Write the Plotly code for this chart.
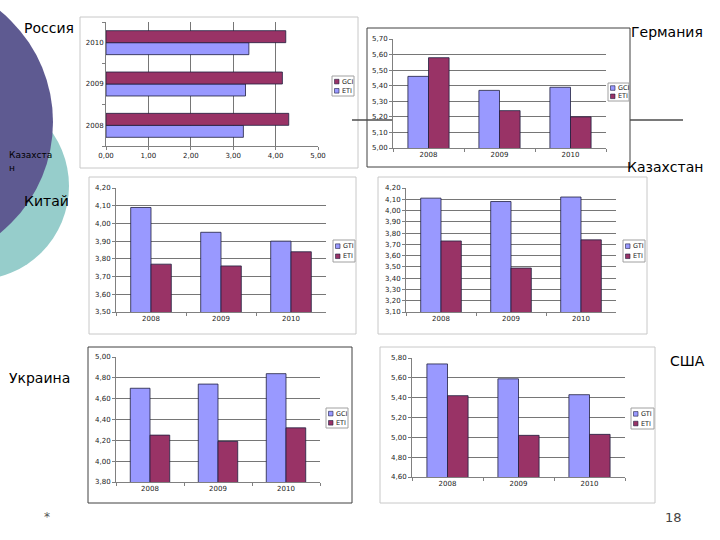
import plotly.graph_objects as go

# ---------------- data ----------------
years = ["2008", "2009", "2010"]

russia_gci = [4.31, 4.16, 4.24]
russia_eti = [3.24, 3.29, 3.37]

germany_gci = [5.46, 5.37, 5.39]
germany_eti = [5.58, 5.24, 5.20]

china_gti = [4.09, 3.95, 3.90]
china_eti = [3.77, 3.76, 3.84]

kaz_gti = [4.11, 4.08, 4.12]
kaz_eti = [3.73, 3.49, 3.74]

ukr_gci = [4.70, 4.74, 4.84]
ukr_eti = [4.25, 4.19, 4.32]

usa_gti = [5.74, 5.59, 5.43]
usa_eti = [5.42, 5.02, 5.03]

# ---------------- style ----------------
W, H = 720, 540
BLUE = "#9999ff"
MAROON = "#993366"
OUTLINE = "#1f1f3f"
PLOT_BG = "#c0c0c0"
GRID = "#767676"
AXIS = "#808080"
FONT = "DejaVu Sans"


def fx(x):
    return x / W


def fy(y):
    return 1 - y / H


panels = [
    dict(series=[("ETI", russia_eti, BLUE), ("GCI", russia_gci, MAROON)],
         legend=[("GCI", MAROON), ("ETI", BLUE)], orient="h", rng=[0, 5], dtick=1,
         box=(80, 17, 358, 168), plot=(106, 22, 318, 146), lbox=(332, 76, 354, 96), border="#c8c8c8"),
    dict(series=[("GCI", germany_gci, BLUE), ("ETI", germany_eti, MAROON)],
         legend=[("GCI", BLUE), ("ETI", MAROON)], orient="v", rng=[5.0, 5.7], dtick=0.1,
         box=(367, 28, 630, 167), plot=(393, 39, 606, 148), lbox=(608, 83, 629, 101), border="#404040"),
    dict(series=[("GTI", china_gti, BLUE), ("ETI", china_eti, MAROON)],
         legend=[("GTI", BLUE), ("ETI", MAROON)], orient="v", rng=[3.5, 4.2], dtick=0.1,
         box=(89, 177, 356, 334), plot=(116, 188, 326, 312), lbox=(333, 240, 355, 262), border="#c8c8c8"),
    dict(series=[("GTI", kaz_gti, BLUE), ("ETI", kaz_eti, MAROON)],
         legend=[("GTI", BLUE), ("ETI", MAROON)], orient="v", rng=[3.1, 4.2], dtick=0.1,
         box=(378, 177, 647, 334), plot=(406, 188, 616, 312), lbox=(623, 240, 645, 262), border="#c8c8c8"),
    dict(series=[("GCI", ukr_gci, BLUE), ("ETI", ukr_eti, MAROON)],
         legend=[("GCI", BLUE), ("ETI", MAROON)], orient="v", rng=[3.8, 5.0], dtick=0.2,
         box=(88, 347, 352, 503), plot=(116, 357, 320, 482), lbox=(326, 408, 348, 428), border="#404040"),
    dict(series=[("GTI", usa_gti, BLUE), ("ETI", usa_eti, MAROON)],
         legend=[("GTI", BLUE), ("ETI", MAROON)], orient="v", rng=[4.6, 5.8], dtick=0.2,
         box=(380, 347, 655, 503), plot=(412, 358, 625, 477), lbox=(631, 408, 654, 429), border="#c8c8c8"),
]

fig = go.Figure()
shapes = []
annotations = []
layout_axes = {}

# decorative circles (slide theme)
shapes.append(dict(type="circle", xref="paper", yref="paper", layer="below",
                   x0=fx(-25 - 94), x1=fx(-25 + 94), y0=fy(186 + 94), y1=fy(186 - 94),
                   fillcolor="#96cdcb", line=dict(width=0)))
shapes.append(dict(type="circle", xref="paper", yref="paper", layer="below",
                   x0=fx(-90 - 143), x1=fx(-90 + 143), y0=fy(122 + 143), y1=fy(122 - 143),
                   fillcolor="#5e5a91", line=dict(width=0)))

value_axis_common = dict(showgrid=True, gridcolor=GRID, gridwidth=1, showline=True, linecolor=AXIS,
                         linewidth=1, ticks="outside", ticklen=3, tickcolor=AXIS, zeroline=False,
                         automargin=False,
                         tickfont=dict(size=7, family=FONT, color="#222222"), fixedrange=True)
cat_axis_common = dict(type="category", showgrid=False, showline=True, linecolor=AXIS, linewidth=1,
                       ticks="outside", ticklen=3, tickcolor=AXIS, tickson="boundaries",
                       automargin=False,
                       tickfont=dict(size=7, family=FONT, color="#222222"), fixedrange=True)

for i, p in enumerate(panels, start=1):
    sfx = "" if i == 1 else str(i)
    xa, ya = "x" + sfx, "y" + sfx
    bx0, by0, bx1, by1 = p["box"]
    shapes.append(dict(type="rect", xref="paper", yref="paper", layer="below",
                       x0=fx(bx0), x1=fx(bx1), y0=fy(by1), y1=fy(by0),
                       fillcolor="white", line=dict(color=p["border"], width=1)))
    px0, py0, px1, py1 = p["plot"]
    lo, hi = p["rng"]
    n = int(round((hi - lo) / p["dtick"]))
    tv = [round(lo + k * p["dtick"], 2) for k in range(n + 1)]
    vaxis = dict(value_axis_common, range=[lo, hi], tickvals=tv, tickformat=".2f")
    if p["orient"] == "h":
        layout_axes["xaxis" + sfx] = dict(vaxis, domain=[fx(px0), fx(px1)], anchor=ya)
        layout_axes["yaxis" + sfx] = dict(cat_axis_common, domain=[fy(py1), fy(py0)], anchor=xa,
                                          categoryorder="array", categoryarray=years)
    else:
        layout_axes["xaxis" + sfx] = dict(cat_axis_common, domain=[fx(px0), fx(px1)], anchor=ya,
                                          categoryorder="array", categoryarray=years)
        layout_axes["yaxis" + sfx] = dict(vaxis, domain=[fy(py1), fy(py0)], anchor=xa)
    for name, vals, col in p["series"]:
        if p["orient"] == "h":
            tr = go.Bar(y=years, x=vals, orientation="h")
        else:
            tr = go.Bar(x=years, y=vals)
        tr.update(name=name, marker=dict(color=col, line=dict(color=OUTLINE, width=0.8)),
                  xaxis=xa, yaxis=ya, showlegend=False, hoverinfo="skip")
        fig.add_trace(tr)
    # legend box
    lx0, ly0, lx1, ly1 = p["lbox"]
    shapes.append(dict(type="rect", xref="paper", yref="paper", layer="above",
                       x0=fx(lx0), x1=fx(lx1), y0=fy(ly1), y1=fy(ly0),
                       fillcolor="white", line=dict(color="#a0a0a0", width=1)))
    lh = ly1 - ly0
    for k, (name, col) in enumerate(p["legend"]):
        cy = ly0 + lh * (0.28 + 0.46 * k)
        shapes.append(dict(type="rect", xref="paper", yref="paper", layer="above",
                           x0=fx(lx0 + 2.5), x1=fx(lx0 + 7), y0=fy(cy + 2.3), y1=fy(cy - 2.3),
                           fillcolor=col, line=dict(color=OUTLINE, width=0.6)))
        annotations.append(dict(xref="paper", yref="paper", x=fx(lx0 + 8), y=fy(cy), text=name,
                                showarrow=False, xanchor="left", yanchor="middle",
                                font=dict(size=6.5, family=FONT, color="#222222")))

# horizontal rule of the slide
shapes.append(dict(type="line", xref="paper", yref="paper", layer="below",
                   x0=fx(352), x1=fx(393), y0=fy(120), y1=fy(120), line=dict(color="#4d4d4d", width=1.5)))
shapes.append(dict(type="line", xref="paper", yref="paper", layer="below",
                   x0=fx(630), x1=fx(683), y0=fy(120), y1=fy(120), line=dict(color="#4d4d4d", width=1.5)))

# slide labels
labels = [
    ("Россия", 22, 28, "left", 14, "#000000"),
    ("Германия", 705, 32, "right", 14, "#000000"),
    ("Казахстан", 705, 167, "right", 14, "#000000"),
    ("Китай", 22, 201, "left", 14, "#000000"),
    ("Украина", 7, 378, "left", 14, "#000000"),
    ("США", 707, 361, "right", 14, "#000000"),
    ("Казахста", 7, 155, "left", 9, "#000000"),
    ("н", 7, 168, "left", 9, "#000000"),
    ("*", 42, 517, "left", 12, "#555555"),
    ("18", 663, 517, "left", 13, "#444444"),
]
for text, x, y, anch, size, col in labels:
    annotations.append(dict(xref="paper", yref="paper", x=fx(x), y=fy(y), text=text, showarrow=False,
                            xanchor=anch, yanchor="middle", font=dict(size=size, family=FONT, color=col)))

fig.update_layout(
    width=W, height=H, margin=dict(l=0, r=0, t=0, b=0, pad=0, autoexpand=False),
    paper_bgcolor="white", plot_bgcolor=PLOT_BG,
    barmode="group", bargap=0.42, bargroupgap=0,
    separators=", ", showlegend=False,
    shapes=shapes, annotations=annotations,
    font=dict(family=FONT, size=7, color="#222222"),
    **layout_axes,
)

fig.write_html("out.html", config={"displayModeBar": False},
               post_script="document.body.style.margin='0';document.body.style.overflow='hidden';")
